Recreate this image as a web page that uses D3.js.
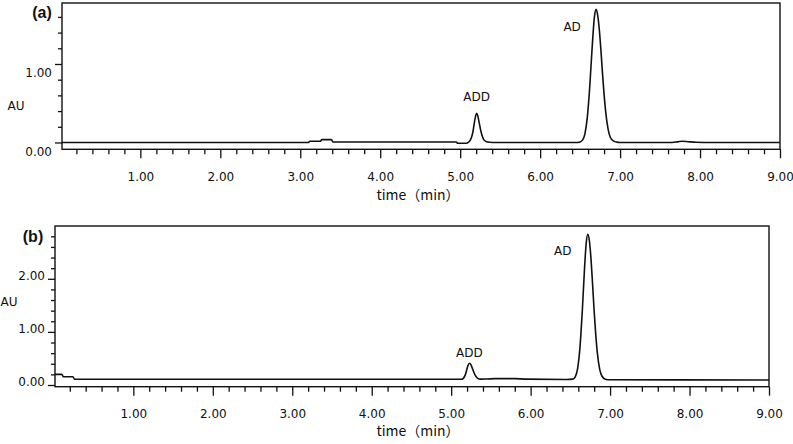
<!DOCTYPE html>
<html>
<head>
<meta charset="utf-8">
<script src="https://cdn.jsdelivr.net/npm/d3@7/dist/d3.min.js"></script>
<style>
  body { margin: 0; background: #fff; }
  text { font-family: "DejaVu Sans", "Noto Sans CJK SC", sans-serif; fill: #111; }
</style>
</head>
<body>
<div id="chart"></div>
<script>
// trace (a): time in min, absorbance in AU
const timeA = [0.02, 3.10, 3.12, 3.25, 3.27, 3.39, 3.41, 4.95, 4.97, 5.08,
  5.10, 5.12, 5.14, 5.16, 5.18, 5.205, 5.22, 5.24, 5.26, 5.28, 5.30, 5.33, 5.37, 5.45,
  6.45, 6.50, 6.53, 6.56, 6.59, 6.62, 6.65, 6.68, 6.70, 6.72, 6.74, 6.76, 6.78, 6.80,
  6.82, 6.85, 6.88, 6.92, 6.96, 7.00, 7.65, 7.72, 7.78, 7.85, 7.95, 8.05, 9.00];
const auA = [0.0, 0.0, 0.015, 0.015, 0.036, 0.036, 0.006, 0.006, -0.01, -0.01,
  0.0, 0.02, 0.06, 0.14, 0.27, 0.372, 0.34, 0.24, 0.14, 0.07, 0.03, 0.01, 0.003, 0.0,
  0.0, 0.007, 0.03, 0.11, 0.32, 0.70, 1.20, 1.61, 1.697, 1.62, 1.44, 1.18, 0.88, 0.61,
  0.39, 0.17, 0.06, 0.017, 0.004, 0.0, 0.0, 0.008, 0.016, 0.01, 0.002, 0.0, 0.0];

// trace (b)
const timeB = [0.014, 0.10, 0.12, 0.24, 0.26, 5.13, 5.15, 5.18, 5.21, 5.23, 5.25, 5.27,
  5.30, 5.33, 5.37, 5.45, 5.55, 5.80, 5.95, 6.45, 6.53, 6.56, 6.59, 6.62, 6.65, 6.68,
  6.70, 6.72, 6.74, 6.76, 6.78, 6.80, 6.82, 6.84, 6.87, 6.90, 6.94, 7.00, 9.00];
const auB = [0.20, 0.20, 0.156, 0.156, 0.107, 0.107, 0.12, 0.20, 0.36, 0.41, 0.38, 0.30,
  0.19, 0.13, 0.11, 0.113, 0.12, 0.12, 0.11, 0.104, 0.11, 0.15, 0.30, 0.69, 1.39, 2.24,
  2.68, 2.84, 2.71, 2.37, 1.89, 1.38, 0.94, 0.60, 0.29, 0.16, 0.11, 0.10, 0.095];

const peakNamesA = ['ADD', 'AD'];
const peakTimesA = [5.205, 6.70];
const peakAuA = [0.372, 1.697];
const peakNamesB = ['ADD', 'AD'];
const peakTimesB = [5.23, 6.72];
const peakAuB = [0.41, 2.84];

const xMajor = [1, 2, 3, 4, 5, 6, 7, 8, 9];
const yMajorA = [0, 1];
const yMajorB = [0, 1, 2];

const width = 793, height = 444;

const svg = d3.select('#chart')
    .append('svg')
    .attr('width', width)
    .attr('height', height);

// layout of each panel
const panels = [
    { tag: '(a)', times: timeA, values: auA, names: peakNamesA, pt: peakTimesA, pv: peakAuA,
      left: 62, right: 780, top: 3, bottom: 149.3, xDom: [0.02, 9], yDom: [-0.087, 1.777],
      yMajor: yMajorA, yMax: 1.6, yLabelDy: 9, tagX: 42, tagY: 12, auX: 16, auY: 106,
      labOff: [[0, -16], [-24, 18]], titleY: 195 },
    { tag: '(b)', times: timeB, values: auB, names: peakNamesB, pt: peakTimesB, pv: peakAuB,
      left: 55, right: 769, top: 226, bottom: 386.7, xDom: [0.014, 9], yDom: [-0.032, 2.994],
      yMajor: yMajorB, yMax: 2.8, yLabelDy: -3, tagX: 33, tagY: 236, auX: 9, auY: 302,
      labOff: [[0, -10], [-25, 17]], titleY: 431 }
];

panels.forEach(p => {
    const x = d3.scaleLinear().domain(p.xDom).range([p.left, p.right]);
    const y = d3.scaleLinear().domain(p.yDom).range([p.bottom, p.top]);
    const g = svg.append('g');

    // minor / major ticks on x
    const xMinor = d3.range(1, 46).filter(i => i % 5 !== 0).map(i => i / 5);
    g.append('g')
        .attr('transform', `translate(0,${p.bottom})`)
        .call(d3.axisBottom(x).tickValues(xMinor).tickSize(5).tickFormat(''))
        .call(a => a.select('.domain').remove());
    g.append('g')
        .attr('transform', `translate(0,${p.bottom})`)
        .call(d3.axisBottom(x).tickValues(xMajor).tickSize(9).tickPadding(14).tickFormat(d3.format('.2f')))
        .call(a => a.select('.domain').remove())
        .call(a => a.selectAll('text').style('font-size', '12px'));

    // y ticks
    const yMinor = d3.range(1, Math.round(p.yMax * 5) + 1).filter(i => i % 5 !== 0).map(i => i / 5);
    g.append('g')
        .attr('transform', `translate(${p.left},0)`)
        .call(d3.axisLeft(y).tickValues(yMinor).tickSize(4).tickFormat(''))
        .call(a => a.select('.domain').remove());
    g.append('g')
        .attr('transform', `translate(${p.left},0)`)
        .call(d3.axisLeft(y).tickValues(p.yMajor).tickSize(7).tickPadding(3).tickFormat(d3.format('.2f')))
        .call(a => a.select('.domain').remove())
        .call(a => a.selectAll('text').style('font-size', '12px').attr('y', p.yLabelDy));

    g.selectAll('.tick line').attr('stroke', '#111').attr('stroke-width', 1.3);

    // frame
    g.append('rect')
        .attr('x', p.left).attr('y', p.top)
        .attr('width', p.right - p.left).attr('height', p.bottom - p.top)
        .attr('fill', 'none').attr('stroke', '#111').attr('stroke-width', 1.4);

    // trace
    const line = d3.line()
        .x((d, i) => x(p.times[i]))
        .y(d => y(d))
        .curve(d3.curveMonotoneX);
    g.append('path')
        .datum(p.values)
        .attr('d', line)
        .attr('fill', 'none')
        .attr('stroke', '#111')
        .attr('stroke-width', 1.6);

    // peak names
    g.selectAll('.peak')
        .data(p.names)
        .enter()
        .append('text')
        .attr('x', (d, i) => x(p.pt[i]) + p.labOff[i][0])
        .attr('y', (d, i) => y(p.pv[i]) + p.labOff[i][1])
        .attr('dy', '0.35em')
        .attr('text-anchor', 'middle')
        .style('font-size', '12px')
        .text(d => d);

    g.append('text')
        .attr('x', p.tagX).attr('y', p.tagY)
        .attr('dy', '0.35em')
        .attr('text-anchor', 'middle')
        .style('font-family', '"Liberation Sans", Arial, sans-serif')
        .style('font-weight', 'bold')
        .style('font-size', '16px')
        .text(p.tag);

    g.append('text')
        .attr('x', p.auX).attr('y', p.auY)
        .attr('dy', '0.35em')
        .attr('text-anchor', 'middle')
        .style('font-size', '12px')
        .text('AU');

    g.append('text')
        .attr('x', 418).attr('y', p.titleY)
        .attr('dy', '0.35em')
        .attr('text-anchor', 'middle')
        .style('font-family', '"Noto Sans CJK SC", sans-serif')
        .style('font-size', '14px')
        .text('time（min）');
});
</script>
</body>
</html>
